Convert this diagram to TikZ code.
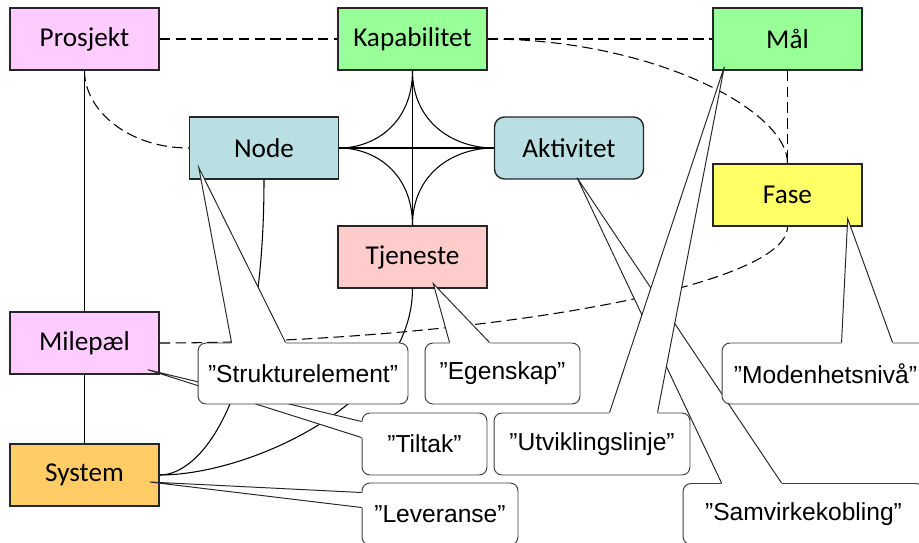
\documentclass[tikz,border=0pt]{standalone}
\usepackage{fontspec}
\setmainfont{Carlito}
\newfontfamily\notefont{Liberation Sans}
\usetikzlibrary{calc}

\definecolor{pinkfill}{HTML}{FFCCFF}
\definecolor{greenfill}{HTML}{99FF99}
\definecolor{aquafill}{HTML}{B9DFE3}
\definecolor{yellowfill}{HTML}{FFFF66}
\definecolor{rosefill}{HTML}{FFCCCC}
\definecolor{orangefill}{HTML}{FFCC66}

% wedge of a speech bubble: base points #1 and #2 on the bubble edge, tip #3
\newcommand\bubblewedge[3]{%
  \fill[white] (#3) -- ($(#1)!-1.5pt!(#3)$) -- ($(#2)!-1.5pt!(#3)$) -- cycle;
  \draw[pointer] (#1) -- (#3) -- (#2);
}

\begin{document}
\begin{tikzpicture}[x=0.02cm,y=-0.02cm,
  entity/.style={draw=black!85, line width=0.8pt, minimum width=2.98cm,
    minimum height=1.24cm, inner sep=0pt, font=\fontsize{15.5}{18}\selectfont},
  link/.style={line width=0.6pt, black},
  dashlink/.style={link, dash pattern=on 6pt off 3pt},
  note/.style={draw=black!75, line width=0.55pt, fill=white, rounded corners=0.16cm,
    minimum height=1.22cm, inner sep=0pt, font=\notefont\fontsize{14}{16}\selectfont},
  pointer/.style={draw=black!85, line width=0.55pt}
]
\clip (0,0) rectangle (919,543);

% entities
\node[entity, fill=pinkfill]   (prosjekt) at (84.5,39)  {Prosjekt};
\node[entity, fill=greenfill]  (kap)      at (412.5,39) {Kapabilitet};
\node[entity, fill=greenfill]  (mal)      at (787.5,39) {Mål};
\node[entity, fill=aquafill]   (nodebox)  at (264,148)  {Node};
\node[entity, fill=aquafill, rounded corners=0.2cm] (akt) at (569,148) {Aktivitet};
\node[entity, fill=yellowfill] (fase)     at (787.5,195) {Fase};
\node[entity, fill=rosefill]   (tj)       at (412.5,257) {Tjeneste};
\node[entity, fill=pinkfill]   (mile)     at (84.5,343) {Milepæl};
\node[entity, fill=orangefill] (sys)      at (84.5,475) {System};

% dashed relations
\draw[dashlink] (prosjekt.east) -- (kap.west);
\draw[dashlink] (kap.east) -- (mal.west);
\draw[dashlink] (mal.south) -- (fase.north);
\draw[dashlink] (kap.east) .. controls +(163,0) and +(0,-54) .. (fase.north);
\draw[dashlink] (prosjekt.south) .. controls +(0,40) and +(-60,0) .. (nodebox.west);
\draw[dashlink] (mile.east) .. controls +(291,0) and +(0,64) .. (fase.south);

% solid relations
\draw[link] (prosjekt.south) -- (mile.north);
\draw[link] (mile.south) -- (sys.north);
\draw[link] (nodebox.east) -- (akt.west);
\draw[link] (kap.south) -- (tj.north);
\draw[link] (kap.south) .. controls +(0,52) and +(36,0) .. (nodebox.east);
\draw[link] (kap.south) .. controls +(0,52) and +(-40,0) .. (akt.west);
\draw[link] (tj.north) .. controls +(0,-52) and +(36,0) .. (nodebox.east);
\draw[link] (tj.north) .. controls +(0,-52) and +(-40,0) .. (akt.west);
\draw[link] (nodebox.south) .. controls +(0,221) and +(41,0) .. (sys.east);
\draw[link] (tj.south) .. controls +(0,112) and +(91,0) .. (sys.east);

% speech bubbles
\node[note, minimum width=4.82cm] (samv) at (803.5,514) {”Samvirkekobling”};
\bubblewedge{$(samv.north west)+(39,0)$}{$(samv.north west)+(99,0)$}{$(akt.south)+(8,-2)$}

\node[note, minimum width=4.14cm] (moden) at (825.5,373.5) {”Modenhetsnivå”};
\bubblewedge{$(moden.north west)+(120,0)$}{$(moden.north west)+(171,0)$}{$(fase.south east)+(-15,-8)$}

\node[note, minimum width=3.92cm, minimum height=1.24cm] (utvik) at (592,444) {”Utviklingslinje”};
\bubblewedge{$(utvik.north west)+(116,0)$}{$(utvik.north west)+(164,0)$}{$(mal.south west)+(12,-4)$}

\node[note, minimum width=2.5cm, minimum height=1.24cm] (tiltak) at (424.5,444) {”Tiltak”};
\bubblewedge{$(tiltak.north west)+(0,9)$}{$(tiltak.north west)+(0,25)$}{$(mile.south east)+(-12,-5)$}

\node[note, minimum width=3.12cm, minimum height=1.24cm] (lever) at (440,514) {”Leveranse”};
\bubblewedge{$(lever.north west)+(0,10)$}{$(lever.north west)+(0,25)$}{$(sys.east)+(-10,7)$}

\node[note, minimum width=4.2cm] (struk) at (303,373.5) {”Strukturelement”};
\bubblewedge{$(struk.north west)+(34,0)$}{$(struk.north west)+(88,0)$}{$(nodebox.south west)+(10,-12)$}

\node[note, minimum width=3.1cm] (egen) at (502.5,373.5) {”Egenskap”};
\bubblewedge{$(egen.north west)+(25,0)$}{$(egen.north west)+(65,0)$}{$(tj.south west)+(96,-5)$}
\end{tikzpicture}
\end{document}
